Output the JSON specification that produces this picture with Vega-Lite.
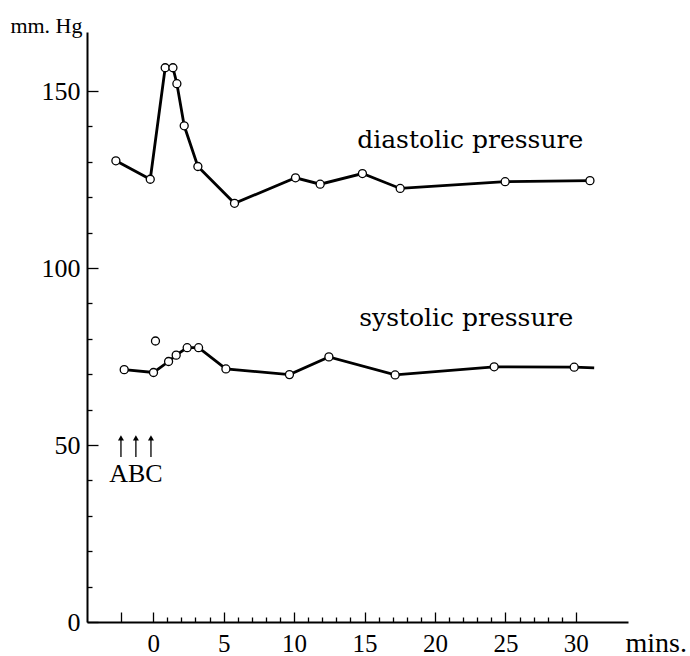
{
  "$schema": "https://vega.github.io/schema/vega-lite/v6.json",
  "width": 541,
  "height": 590,
  "autosize": {"type": "none"},
  "padding": {"left": 87, "top": 32, "right": 62, "bottom": 34},
  "background": "white",
  "config": {
    "font": "Liberation Serif",
    "view": {"stroke": null},
    "axis": {"grid": false, "domainColor": "#000", "domainWidth": 2, "tickColor": "#000", "tickWidth": 1.3, "labelColor": "#000", "titleColor": "#000", "labelFont": "Liberation Serif", "titleFont": "Liberation Serif", "titleFontWeight": "normal", "labelOverlap": false, "labelFlush": false}
  },
  "resolve": {"axis": {"x": "independent", "y": "independent"}},
  "datasets": {
    "bp": [
      {"series": "diastolic", "t": -2.65, "p": 130.3, "kind": "pt"},
      {"series": "diastolic", "t": -0.21, "p": 125.1, "kind": "pt"},
      {"series": "diastolic", "t": 0.85, "p": 156.6, "kind": "pt"},
      {"series": "diastolic", "t": 1.4, "p": 156.6, "kind": "pt"},
      {"series": "diastolic", "t": 1.68, "p": 152.1, "kind": "pt"},
      {"series": "diastolic", "t": 2.2, "p": 140.2, "kind": "pt"},
      {"series": "diastolic", "t": 3.17, "p": 128.7, "kind": "pt"},
      {"series": "diastolic", "t": 5.77, "p": 118.3, "kind": "pt"},
      {"series": "diastolic", "t": 10.1, "p": 125.5, "kind": "pt"},
      {"series": "diastolic", "t": 11.85, "p": 123.7, "kind": "pt"},
      {"series": "diastolic", "t": 14.85, "p": 126.7, "kind": "pt"},
      {"series": "diastolic", "t": 17.53, "p": 122.5, "kind": "pt"},
      {"series": "diastolic", "t": 24.98, "p": 124.4, "kind": "pt"},
      {"series": "diastolic", "t": 31.0, "p": 124.7, "kind": "pt"},
      {"series": "systolic", "t": -2.06, "p": 71.3, "kind": "pt"},
      {"series": "systolic", "t": 0.02, "p": 70.5, "kind": "pt"},
      {"series": "systolic", "t": 0.16, "p": 79.4, "kind": "iso"},
      {"series": "systolic", "t": 1.09, "p": 73.6, "kind": "pt"},
      {"series": "systolic", "t": 1.63, "p": 75.4, "kind": "pt"},
      {"series": "systolic", "t": 2.41, "p": 77.5, "kind": "pt"},
      {"series": "systolic", "t": 3.22, "p": 77.5, "kind": "pt"},
      {"series": "systolic", "t": 5.16, "p": 71.5, "kind": "pt"},
      {"series": "systolic", "t": 9.67, "p": 69.9, "kind": "pt"},
      {"series": "systolic", "t": 12.47, "p": 74.9, "kind": "pt"},
      {"series": "systolic", "t": 17.17, "p": 69.8, "kind": "pt"},
      {"series": "systolic", "t": 24.2, "p": 72.1, "kind": "pt"},
      {"series": "systolic", "t": 29.88, "p": 72.0, "kind": "pt"},
      {"series": "systolic", "t": 31.3, "p": 71.8, "kind": "end"}
    ],
    "labels": [
      {"t": 14.48, "p": 133.9, "text": "diastolic pressure"},
      {"t": 14.62, "p": 83.6, "text": "systolic pressure"}
    ],
    "arrows": [
      {"t": -2.29, "lo": 46.6, "hi": 52.0},
      {"t": -1.23, "lo": 46.6, "hi": 52.0},
      {"t": -0.16, "lo": 46.6, "hi": 52.0}
    ],
    "abc": [
      {"t": -1.23, "p": 39.5, "text": "ABC"}
    ]
  },
  "layer": [
    {
      "data": {"name": "bp"},
      "transform": [{"filter": "datum.kind !== 'iso'"}],
      "mark": {"type": "line", "color": "#000", "strokeWidth": 2.8, "clip": false},
      "encoding": {
        "x": {
          "field": "t", "type": "quantitative",
          "scale": {"domain": [-4.7, 33.7], "nice": false, "zero": false},
          "axis": {
            "orient": "bottom",
            "values": [-2.3, 0, 5, 10, 15, 20, 25, 30],
            "labelExpr": "datum.value < 0 ? '' : datum.label",
            "tickSize": -10,
            "labelFont": "Liberation Serif",
            "labelFontSize": 25,
            "labelPadding": 19,
            "title": "mins.",
            "titleFont": "Liberation Serif",
            "titleFontWeight": "normal",
            "titleFontSize": 28,
            "titleAlign": "left",
            "titleAnchor": null,
            "titleBaseline": "alphabetic",
            "titleX": 538,
            "titleY": 29
          }
        },
        "y": {
          "field": "p", "type": "quantitative",
          "scale": {"domain": [0, 166.7], "nice": false, "zero": false},
          "axis": {
            "orient": "left",
            "values": [0, 50, 100, 150],
            "tickSize": -11,
            "labelFont": "Liberation Serif",
            "labelFontSize": 26,
            "labelPadding": 18,
            "title": "mm. Hg",
            "titleFont": "Liberation Serif",
            "titleFontWeight": "normal",
            "titleFontSize": 22,
            "titleAngle": 0,
            "titleAlign": "right",
            "titleAnchor": null,
            "titleBaseline": "alphabetic",
            "titleX": -5,
            "titleY": 0
          }
        },
        "detail": {"field": "series"},
        "order": {"field": "t", "type": "quantitative"}
      }
    },
    {
      "data": {"name": "bp"},
      "transform": [{"filter": "datum.kind !== 'end'"}],
      "mark": {"type": "point", "shape": "circle", "size": 64, "filled": false, "fill": "white", "fillOpacity": 1, "stroke": "#000", "strokeWidth": 1.3, "opacity": 1},
      "encoding": {
        "x": {
          "field": "t", "type": "quantitative",
          "axis": {
            "orient": "bottom",
            "values": [1, 2, 3, 4, 6, 7, 8, 9, 11, 12, 13, 14, 16, 17, 18, 19, 21, 22, 23, 24, 26, 27, 28, 29],
            "tickSize": -5,
            "labels": false,
            "domain": false,
            "title": null
          }
        },
        "y": {
          "field": "p", "type": "quantitative",
          "axis": {
            "orient": "left",
            "values": [10, 20, 30, 40, 60, 70, 80, 90, 110, 120, 130, 140],
            "tickSize": -5,
            "labels": false,
            "domain": false,
            "title": null
          }
        }
      }
    },
    {
      "data": {"name": "labels"},
      "mark": {"type": "text", "font": "DejaVu Serif", "fontSize": 25, "align": "left", "baseline": "alphabetic", "color": "#000"},
      "encoding": {
        "x": {"field": "t", "type": "quantitative", "axis": null},
        "y": {"field": "p", "type": "quantitative", "axis": null},
        "text": {"field": "text"}
      }
    },
    {
      "data": {"name": "arrows"},
      "mark": {"type": "rule", "color": "#000", "strokeWidth": 1.3},
      "encoding": {
        "x": {"field": "t", "type": "quantitative", "axis": null},
        "y": {"field": "lo", "type": "quantitative", "axis": null},
        "y2": {"field": "hi"}
      }
    },
    {
      "data": {"name": "arrows"},
      "mark": {"type": "point", "shape": "triangle-up", "size": 36, "filled": true, "color": "#000", "opacity": 1},
      "encoding": {
        "x": {"field": "t", "type": "quantitative", "axis": null},
        "y": {"field": "hi", "type": "quantitative", "axis": null}
      }
    },
    {
      "data": {"name": "abc"},
      "mark": {"type": "text", "font": "Liberation Serif", "fontSize": 26, "align": "center", "baseline": "alphabetic", "color": "#000"},
      "encoding": {
        "x": {"field": "t", "type": "quantitative", "axis": null},
        "y": {"field": "p", "type": "quantitative", "axis": null},
        "text": {"field": "text"}
      }
    }
  ]
}
